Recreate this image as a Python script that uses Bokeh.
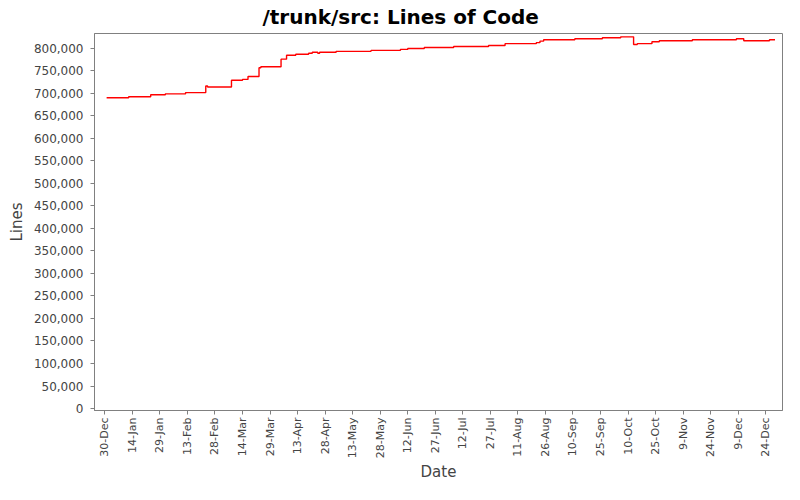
import math
import pandas as pd
from bokeh.plotting import figure
from bokeh.models import FixedTicker, NumeralTickFormatter, Range1d
from bokeh.embed import file_html
from bokeh.resources import INLINE

# ---- data ----
start_date = "2007-12-30"
dates = ["2007-12-31", "2008-01-12", "2008-01-24", "2008-02-01", "2008-02-12",
         "2008-02-23", "2008-02-24", "2008-03-08", "2008-03-14", "2008-03-17",
         "2008-03-23", "2008-03-24", "2008-04-04", "2008-04-07", "2008-04-12",
         "2008-04-19", "2008-04-21", "2008-04-24", "2008-04-25", "2008-05-04",
         "2008-05-23", "2008-06-08", "2008-06-12", "2008-06-21", "2008-07-07",
         "2008-07-26", "2008-08-04", "2008-08-21", "2008-08-23", "2008-08-25",
         "2008-09-11", "2008-09-26", "2008-10-06", "2008-10-13", "2008-10-15",
         "2008-10-23", "2008-10-27", "2008-11-14", "2008-12-08", "2008-12-12",
         "2008-12-26", "2008-12-29"]
lines = [690400, 692500, 696800, 699000, 701700,
         716500, 714000, 729000, 731000, 737600,
         757000, 759000, 776000, 784800, 786900,
         789000, 791200, 789000, 791200, 793400,
         795500, 797700, 799800, 802000, 804000,
         806200, 810500, 812700, 816000, 819000,
         821300, 823400, 825600, 808400, 810500,
         814800, 817000, 819000, 821300, 817000,
         819000, 819000]

tick_dates = ["2007-12-30", "2008-01-14", "2008-01-29", "2008-02-13", "2008-02-28",
              "2008-03-14", "2008-03-29", "2008-04-13", "2008-04-28", "2008-05-13",
              "2008-05-28", "2008-06-12", "2008-06-27", "2008-07-12", "2008-07-27",
              "2008-08-11", "2008-08-26", "2008-09-10", "2008-09-25", "2008-10-10",
              "2008-10-25", "2008-11-09", "2008-11-24", "2008-12-09", "2008-12-24"]
tick_labels = ["30-Dec", "14-Jan", "29-Jan", "13-Feb", "28-Feb", "14-Mar", "29-Mar",
               "13-Apr", "28-Apr", "13-May", "28-May", "12-Jun", "27-Jun", "12-Jul",
               "27-Jul", "11-Aug", "26-Aug", "10-Sep", "25-Sep", "10-Oct", "25-Oct",
               "9-Nov", "24-Nov", "9-Dec", "24-Dec"]
y_ticks = [0, 50000, 100000, 150000, 200000, 250000, 300000, 350000, 400000,
           450000, 500000, 550000, 600000, 650000, 700000, 750000, 800000]

# ---- convert dates to day offsets ----
t0 = pd.Timestamp(start_date)
x_days = [(pd.Timestamp(d) - t0).days for d in dates]
tick_days = [(pd.Timestamp(d) - t0).days for d in tick_dates]

FONT = "DejaVu Sans"
GRAY = "#808080"
TXT = "#444444"

p = figure(width=784, height=484, output_backend="svg", toolbar_location=None,
           x_range=Range1d(-5.6, 369.1), y_range=Range1d(-4400, 833000),
           min_border_left=94, min_border_right=2, min_border_top=33,
           min_border_bottom=66, title="/trunk/src: Lines of Code")

p.title.text_font = FONT
p.title.text_font_size = "20px"
p.title.text_font_style = "bold"
p.title.text_color = "#000000"
p.title.align = "left"
p.title.vertical_align = "top"
p.title.offset = 168
p.title.standoff = 6

p.step(x_days, lines, mode="after", line_color="#ff0000", line_width=1.4)

p.xgrid.visible = False
p.ygrid.visible = False
p.outline_line_color = GRAY
p.background_fill_color = "white"
p.border_fill_color = "white"

xa = p.xaxis[0]
xa.ticker = FixedTicker(ticks=tick_days)
xa.major_label_overrides = {d: lab for d, lab in zip(tick_days, tick_labels)}
xa.major_label_orientation = math.pi / 2
xa.axis_label = "Date"
xa.major_label_text_font_size = "11px"
xa.major_label_standoff = 3
xa.axis_label_standoff = 2

ya = p.yaxis[0]
ya.ticker = FixedTicker(ticks=y_ticks)
ya.formatter = NumeralTickFormatter(format="0,0")
ya.axis_label = "Lines"
ya.major_label_text_font_size = "12px"
ya.major_label_standoff = 7
ya.axis_label_standoff = 5

for ax in (xa, ya):
    ax.axis_line_color = GRAY
    ax.major_tick_line_color = GRAY
    ax.major_tick_out = 4
    ax.major_tick_in = 0
    ax.minor_tick_line_color = None
    ax.major_label_text_font = FONT
    ax.major_label_text_color = TXT
    ax.axis_label_text_font = FONT
    ax.axis_label_text_font_size = "15px"
    ax.axis_label_text_font_style = "normal"
    ax.axis_label_text_color = TXT

open("out.html", "w").write(file_html(p, INLINE))
